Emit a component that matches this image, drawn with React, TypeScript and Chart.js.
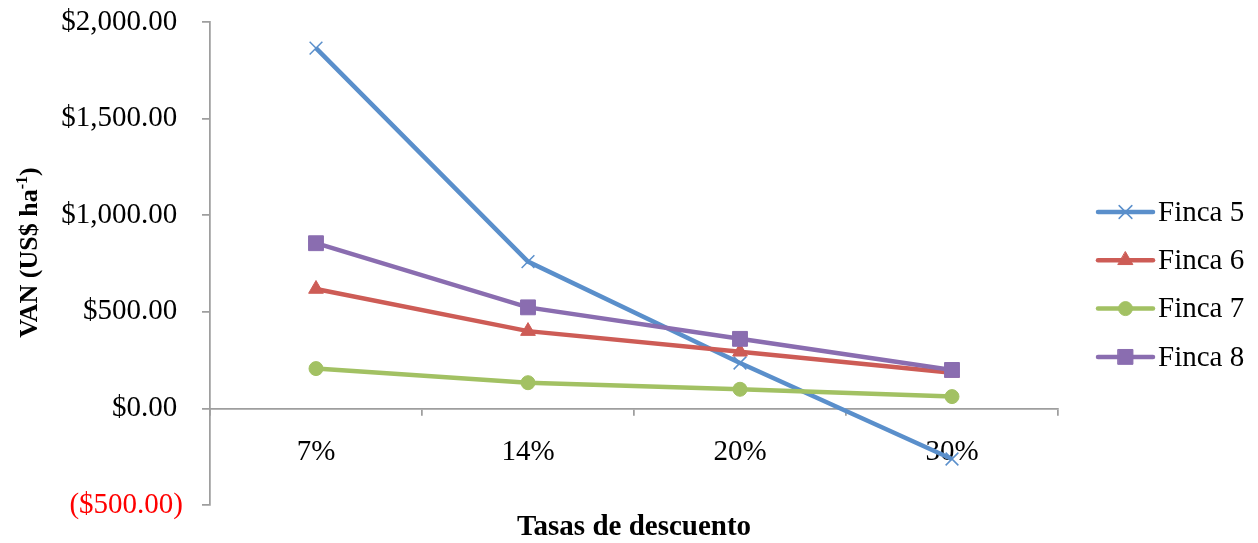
import React, { useEffect, useRef } from "react";
import { Chart, registerables } from "chart.js";

Chart.register(...registerables);

const categories = ["7%", "14%", "20%", "30%"];
const seriesNames = ["Finca 5", "Finca 6", "Finca 7", "Finca 8"];
const finca5 = [1865, 760, 235, -262];
const finca6 = [618, 400, 293, 184];
const finca7 = [206, 133, 99, 61];
const finca8 = [855, 523, 360, 199];
const yMin = -500;
const yMax = 2000;
const yStep = 500;
const xTitle = "Tasas de descuento";
const yTitleMain = "VAN (US$ ha";
const yTitleSup = "-1";
const yTitleEnd = ")";

const seriesValues = [finca5, finca6, finca7, finca8];
const COLORS = ["#5A8FCB", "#CD5C56", "#A2C163", "#8A6DB0"];
const STYLES = ["crossRot", "triangle", "circle", "rect"];
const RADII = [9, 8.5, 7, 10.5];
const FONT = "'Liberation Serif', 'Times New Roman', serif";
const AXIS_GRAY = "#9E9E9E";

function fmtMoney(v: number): string {
  const s =
    "$" +
    Math.abs(v).toLocaleString("en-US", {
      minimumFractionDigits: 2,
      maximumFractionDigits: 2,
    });
  return v < 0 ? "(" + s + ")" : s + "\u2009";
}

function drawMarker(
  ctx: CanvasRenderingContext2D,
  style: string,
  x: number,
  y: number,
  r: number,
  color: string
) {
  ctx.save();
  ctx.fillStyle = color;
  ctx.strokeStyle = color;
  ctx.beginPath();
  if (style === "circle") {
    ctx.lineWidth = 1;
    ctx.arc(x, y, r, 0, Math.PI * 2);
    ctx.fill();
    ctx.stroke();
  } else if (style === "rect") {
    ctx.lineWidth = 1;
    const s = r * Math.SQRT1_2;
    ctx.rect(x - s, y - s, 2 * s, 2 * s);
    ctx.fill();
    ctx.stroke();
  } else if (style === "triangle") {
    ctx.lineWidth = 1;
    for (let k = 0; k < 3; k++) {
      const a = (k * 2 * Math.PI) / 3;
      const px = x + Math.sin(a) * r;
      const py = y - Math.cos(a) * r;
      if (k === 0) ctx.moveTo(px, py);
      else ctx.lineTo(px, py);
    }
    ctx.closePath();
    ctx.fill();
    ctx.stroke();
  } else {
    ctx.lineWidth = 1.5;
    const d = r * Math.SQRT1_2;
    ctx.moveTo(x - d, y - d);
    ctx.lineTo(x + d, y + d);
    ctx.moveTo(x + d, y - d);
    ctx.lineTo(x - d, y + d);
    ctx.stroke();
  }
  ctx.restore();
}

const customPlugin = {
  id: "customDecor",
  afterDraw(chart: any) {
    const { ctx, chartArea } = chart;
    ctx.save();
    // X axis title
    ctx.font = `bold 29px ${FONT}`;
    ctx.fillStyle = "#000";
    ctx.textAlign = "center";
    ctx.textBaseline = "middle";
    ctx.fillText(xTitle, (chartArea.left + chartArea.right) / 2, chartArea.bottom + 23);

    // Y axis title with superscript
    const cy = (chartArea.top + chartArea.bottom) / 2 - 11;
    ctx.translate(27, cy);
    ctx.rotate(-Math.PI / 2);
    const mainFont = `bold 26px ${FONT}`;
    const supFont = `bold 16px ${FONT}`;
    ctx.font = mainFont;
    const w1 = ctx.measureText(yTitleMain).width;
    const w3 = ctx.measureText(yTitleEnd).width;
    ctx.font = supFont;
    const w2 = ctx.measureText(yTitleSup).width;
    let x = -(w1 + w2 + w3) / 2;
    ctx.textAlign = "left";
    ctx.textBaseline = "alphabetic";
    const base = 10;
    ctx.font = mainFont;
    ctx.fillText(yTitleMain, x, base);
    x += w1;
    ctx.font = supFont;
    ctx.fillText(yTitleSup, x, base - 10);
    x += w2;
    ctx.font = mainFont;
    ctx.fillText(yTitleEnd, x, base);
    ctx.restore();

    // Legend
    ctx.save();
    const legendTop = 212;
    const gap = 48.3;
    const lx1 = 1098;
    const lx2 = 1153;
    for (let i = 0; i < seriesNames.length; i++) {
      const y = legendTop + i * gap;
      ctx.strokeStyle = COLORS[i];
      ctx.lineWidth = 4.5;
      ctx.lineCap = "round";
      ctx.beginPath();
      ctx.moveTo(lx1, y);
      ctx.lineTo(lx2, y);
      ctx.stroke();
      drawMarker(ctx, STYLES[i], (lx1 + lx2) / 2, y, RADII[i], COLORS[i]);
      ctx.font = `29px ${FONT}`;
      ctx.fillStyle = "#000";
      ctx.textAlign = "left";
      ctx.textBaseline = "middle";
      ctx.fillText(seriesNames[i], lx2 + 5, y + 1);
    }
    ctx.restore();
  },
};

export default function App() {
  const canvasRef = useRef<HTMLCanvasElement | null>(null);

  useEffect(() => {
    if (!canvasRef.current) return;
    Chart.defaults.font.family = FONT;
    const datasets = seriesValues.map((vals, i) => ({
      label: seriesNames[i],
      data: vals,
      borderColor: COLORS[i],
      backgroundColor: COLORS[i],
      borderWidth: 4.5,
      pointStyle: STYLES[i] as any,
      pointRadius: RADII[i],
      pointHoverRadius: RADII[i],
      pointBorderWidth: i === 0 ? 1.5 : 1,
      pointBackgroundColor: COLORS[i],
      pointBorderColor: COLORS[i],
      tension: 0,
      fill: false,
      order: seriesNames.length - i,
      clip: false as any,
    }));

    const chart = new Chart(canvasRef.current, {
      type: "line",
      data: { labels: categories, datasets },
      plugins: [customPlugin],
      options: {
        responsive: false,
        animation: false,
        events: [],
        layout: { padding: { left: 0, right: 200, top: 22, bottom: 38 } },
        plugins: {
          legend: { display: false },
          tooltip: { enabled: false },
          title: { display: false },
        },
        scales: {
          x: {
            type: "category",
            position: { y: 0 } as any,
            offset: true,
            afterFit: (scale: any) => {
              scale.paddingTop = 0;
              scale.paddingBottom = 0;
              scale.height = 0;
            },
            grid: {
              display: true,
              offset: true,
              drawOnChartArea: false,
              drawTicks: true,
              tickLength: 6,
              color: AXIS_GRAY,
              lineWidth: 1.75,
            },
            border: { display: true, color: AXIS_GRAY, width: 1.75 },
            ticks: {
              color: "#000",
              font: { size: 29, family: FONT },
              padding: 21,
              maxRotation: 0,
              autoSkip: false,
            },
          },
          y: {
            type: "linear",
            min: yMin,
            max: yMax,
            afterFit: (scale: any) => {
              scale.width = 210;
              scale.paddingTop = 0;
              scale.paddingBottom = 0;
            },
            grid: {
              display: true,
              drawOnChartArea: false,
              drawTicks: true,
              tickLength: 8,
              color: AXIS_GRAY,
              lineWidth: 1.75,
            },
            border: { display: true, color: AXIS_GRAY, width: 1.75 },
            ticks: {
              stepSize: yStep,
              padding: 19,
              font: { size: 29, family: FONT },
              color: (ctx: any) => (ctx.tick && ctx.tick.value < 0 ? "#FF0000" : "#000"),
              callback: (v: any) => fmtMoney(Number(v)),
            },
          },
        },
      },
    });
    return () => chart.destroy();
  }, []);

  return (
    <div style={{ position: "fixed", left: 0, top: 0, width: 1258, height: 543, background: "#fff" }}>
      <canvas ref={canvasRef} width={1258} height={543} style={{ display: "block" }} />
    </div>
  );
}
